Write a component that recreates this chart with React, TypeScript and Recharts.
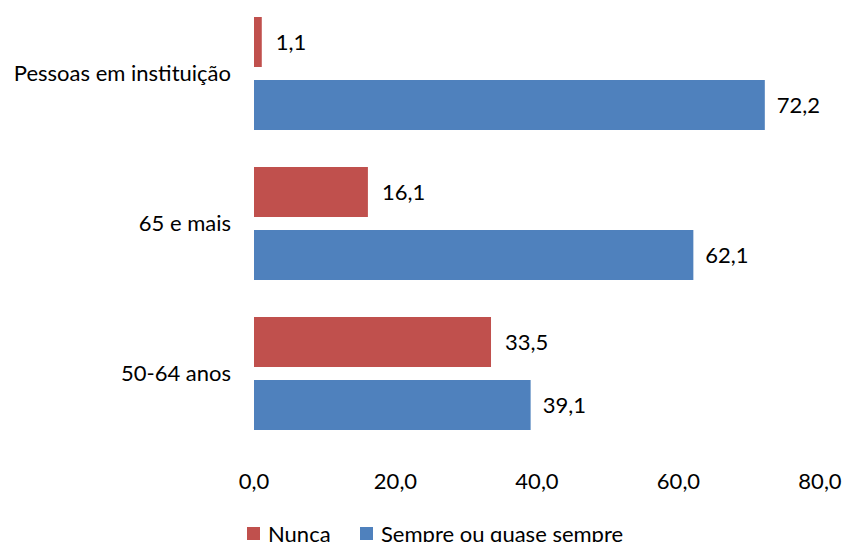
import { Bar, BarChart, LabelList, Legend, XAxis, YAxis } from "recharts";

const categories = ["Pessoas em instituição", "65 e mais", "50-64 anos"];
const nunca = [1.1, 16.1, 33.5];
const sempre = [72.2, 62.1, 39.1];
const xTicks = [0, 20, 40, 60, 80];

const RED = "#C0504D";
const BLUE = "#4F81BD";
const FONT = "Lato, 'Open Sans', sans-serif";
const FS = 22;

const data = categories.map((name, i) => ({ name, nunca: nunca[i], sempre: sempre[i] }));

const fmt = (v: number) => v.toFixed(1).replace(".", ",");

function LegendBox() {
  const item = (color: string, label: string, left: number) => (
    <div style={{ position: "absolute", left, top: 0, height: 28, display: "flex", alignItems: "center" }}>
      <span style={{ width: 13, height: 13, background: color, display: "inline-block", marginRight: 8 }} />
      <span>{label}</span>
    </div>
  );
  return (
    <div style={{ position: "relative", height: 28, fontFamily: FONT, fontSize: FS, color: "#000" }}>
      {item(RED, "Nunca", 247)}
      {item(BLUE, "Sempre ou quase sempre", 360)}
    </div>
  );
}

export default function App() {
  return (
    <div style={{ position: "fixed", left: 0, top: 0, width: 844, height: 542, background: "#fff", overflow: "hidden" }}>
      <BarChart
        width={844}
        height={542}
        data={data}
        layout="vertical"
        margin={{ top: -2, right: 24, bottom: 26, left: 0 }}
        barSize={50}
        barGap={13}
      >
        <XAxis
          type="number"
          domain={[0, 80]}
          ticks={xTicks}
          tickFormatter={fmt}
          axisLine={false}
          tickLine={false}
          tickSize={0}
          tickMargin={25}
          height={40}
          tick={{ fontSize: FS, fill: "#000", fontFamily: FONT }}
        />
        <YAxis
          type="category"
          dataKey="name"
          width={254}
          axisLine={false}
          tickLine={false}
          tickSize={0}
          tickMargin={23}
          tick={{ fontSize: FS, fill: "#000", fontFamily: FONT }}
        />
        <Legend
          verticalAlign="bottom"
          wrapperStyle={{ top: 519, left: 0, width: 844 }}
          content={() => <LegendBox />}
        />
        <Bar dataKey="nunca" name="Nunca" fill={RED} isAnimationActive={false}>
          <LabelList
            dataKey="nunca"
            position="right"
            offset={14}
            formatter={(v: any) => fmt(Number(v))}
            style={{ fontSize: FS, fill: "#000", fontFamily: FONT }}
          />
        </Bar>
        <Bar dataKey="sempre" name="Sempre ou quase sempre" fill={BLUE} isAnimationActive={false}>
          <LabelList
            dataKey="sempre"
            position="right"
            offset={12}
            formatter={(v: any) => fmt(Number(v))}
            style={{ fontSize: FS, fill: "#000", fontFamily: FONT }}
          />
        </Bar>
      </BarChart>
    </div>
  );
}
